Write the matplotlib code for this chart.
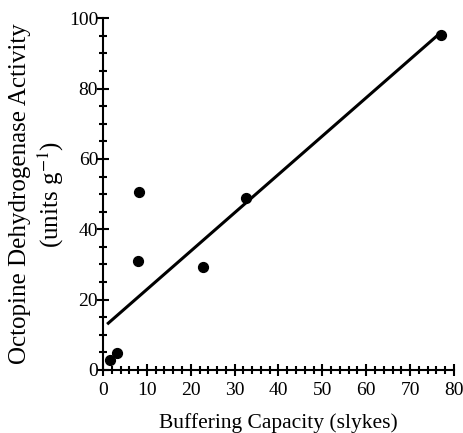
import numpy as np
import matplotlib
matplotlib.use("Agg")
import matplotlib.pyplot as plt
from matplotlib.ticker import MultipleLocator

plt.rcParams['font.family'] = ['Liberation Serif', 'DejaVu Serif']
plt.rcParams['mathtext.fontset'] = 'stix'

# data
buffering = [1.5, 3.3, 7.9, 8.3, 22.8, 32.6, 77.0]
odh_activity = [2.8, 4.7, 30.9, 50.5, 29.3, 49.0, 95.3]
fit_slope = 1.09
fit_intercept = 12.0

fig = plt.figure(figsize=(4.63, 4.33), dpi=100)
ax = fig.add_axes([0.2225, 0.1455, 0.758, 0.8125])

xs = np.array([1.2, max(buffering)])
ax.plot(xs, fit_intercept + fit_slope * xs, color='black', linewidth=2.2)
ax.scatter(buffering, odh_activity, s=50, color='black', zorder=3, clip_on=False)

ax.set_xlim(0, 80)
ax.set_ylim(0, 100)
ax.xaxis.set_major_locator(MultipleLocator(10))
ax.xaxis.set_minor_locator(MultipleLocator(2))
ax.yaxis.set_major_locator(MultipleLocator(20))
ax.yaxis.set_minor_locator(MultipleLocator(5))
ax.tick_params(which='major', direction='inout', length=9, width=1.5, labelsize=14)
ax.tick_params(axis='x', which='major', pad=4)
ax.tick_params(axis='y', which='major', pad=-1)
ax.tick_params(which='minor', direction='inout', length=6, width=1.5)

for side in ['top', 'right']:
    ax.spines[side].set_visible(False)
for side in ['left', 'bottom']:
    ax.spines[side].set_linewidth(1.5)

ax.set_xlabel('Buffering Capacity (slykes)', fontsize=15.5, labelpad=10)
ax.set_ylabel('Octopine Dehydrogenase Activity\n(units g$^{-1}$)', fontsize=18,
              labelpad=2, linespacing=1.2)

fig.savefig('out.png', dpi=100)
